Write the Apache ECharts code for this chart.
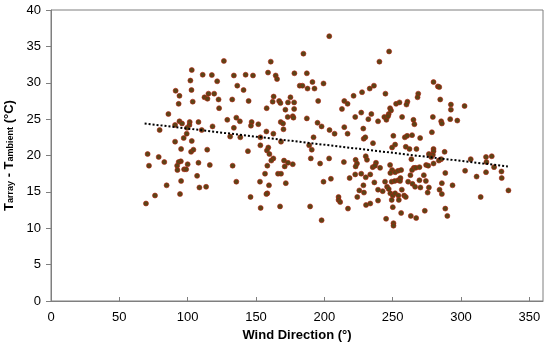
<!DOCTYPE html>
<html><head><meta charset="utf-8">
<script src="https://cdn.jsdelivr.net/npm/echarts@6/dist/echarts.min.js"></script>
<style>html,body{margin:0;padding:0;background:#fff}#c{width:550px;height:348px}</style>
</head><body><div id="c"></div>
<script>
// Wind direction (deg) and T_array - T_ambient (deg C)
const windDir = [
126.5,103,111,117.7,102,121.6,102.8,91.2,115.2,119.4,94,112.3,114.5,122.6,103.7,93.4,123,85.9,94,101.5,95.9,101.3,107.9,90.8,118.2,79.5,99.6,110.3,99.3,
90.8,97.1,103,95.2,102.5,104.2,114.3,70.7,78.8,95,93.4,100,107.9,82.9,71.7,92.3,92.5,97.4,98.9,116.2,106.9,95.2,84.6,108.6,113.5,94.4,76.1,69.5,
184.7,160.8,158.8,178.1,187.2,133.8,142.4,147.8,164.4,165.4,136.3,191.3,182,184,187.7,192.8,199.4,140.9,195.5,132.6,144.6,162.9,162.2,166.9,167.9,175.2,173.4,177.9,157.8,171.5,177.9,173.2,176.9,177.4,168.1,169.8,187.2,195,198,129,135.6,138.2,146.8,146.3,151.7,133.8,157.6,162.7,170.1,
131.1,138.5,144.1,153.2,153.2,159,158,159.8,162.7,161.2,168.3,158.3,170.5,173.4,176.9,171,192.1,188.9,190.8,190.1,196.9,132.9,156.6,166.1,168.3,135.6,152.9,159.5,171.8,199.4,158.3,157.6,146,153.4,167.6,189.6,198,
203.6,247.4,240.3,233.2,236.3,227.6,221.4,244.7,214.6,217,212.9,227,234.4,222.6,232.2,239.3,243.9,245.4,248.1,248.8,247.1,246.6,252.5,255,260.8,260.1,256.9,268.7,268.2,265.2,265.9,203.8,207.5,214.6,217,228.5,
228.8,230,235.6,250.5,258.9,260.6,264.2,249.6,251.8,259.6,262.3,267.4,203.5,214.3,222.9,223.9,222.9,230.3,231.2,235.4,237.8,237.1,240.8,248.1,249.6,251.8,248.3,254,256.2,263.7,265.5,264.2,266.9,269.6,222.6,227,263,
204.8,210.4,210.4,211.6,217.3,218.5,224.1,225.6,228.6,229,230.5,233.6,230.3,233.6,236.6,239.3,242.7,239.3,245.2,244.4,245.9,247.1,249.3,248.3,250.1,249.3,250.1,250.6,250.6,251.8,251.5,254,255.7,255.4,254.2,254.5,256.7,258.4,259.6,256.2,261.3,264.5,266.4,263.3,267.2,269.6,
279.9,283.1,284.1,284.8,292.6,292.6,302.6,279.4,285.5,286,292.1,297.3,278.7,
270.1,279.9,279.9,288,276.5,279.4,278.2,283.8,285.5,279.9,274.5,276,288.5,272.8,274.3,270.3,276.5,275.6,286,286,284.3,293.8,288.5,290,273.5,307.1,303,318.3,322.5,318.6,324.2,318.3,311.4,329.6,329.8,334.7,314.4
];
const deltaT = [
33.0,31.75,31.1,31.06,30.3,30.2,29.0,28.9,28.5,28.5,28.2,28.0,27.8,27.7,27.4,27.1,26.5,25.7,24.7,24.6,24.4,24.2,24.6,24.2,24.0,23.5,23.8,23.5,23.0,
21.9,22.4,22.0,20.9,20.5,20.8,20.8,20.2,19.8,19.2,19.1,18.8,19.0,19.1,18.6,18.6,18.0,18.1,18.1,18.7,17.2,16.5,15.9,15.6,15.7,14.7,14.5,13.4,
34.0,32.9,31.4,31.3,31.3,31.0,31.1,31.0,31.0,30.5,29.6,30.1,29.6,29.6,29.2,29.2,29.9,29.0,27.5,27.7,27.5,28.1,27.4,27.5,27.2,28.0,27.3,27.3,26.5,26.3,26.4,25.3,25.4,25.2,24.6,24.4,25.1,24.5,24.0,24.9,25.2,24.7,24.6,24.1,24.3,23.8,23.3,23.0,23.6,
22.6,22.5,20.6,22.5,21.4,21.1,20.7,20.2,19.6,19.3,21.9,18.6,19.3,19.0,18.8,18.5,22.5,21.4,20.8,19.6,18.9,18.6,17.5,17.5,17.5,16.4,16.4,15.9,16.2,16.4,14.8,14.7,14.3,12.8,13.0,13.0,11.1,
36.4,34.3,32.9,29.2,29.6,28.7,28.2,28.5,27.5,27.1,26.4,25.9,25.7,25.3,25.0,24.7,25.3,24.9,26.5,26.2,25.7,25.4,27.1,27.3,27.4,27.0,25.3,28.5,28.0,24.9,24.3,23.5,23.0,23.9,23.0,23.7,
22.3,22.5,21.7,22.7,22.5,22.7,22.8,21.1,21.5,21.2,20.9,20.9,19.6,19.1,19.4,18.9,18.5,19.9,19.4,18.4,19.0,18.6,18.3,18.7,18.0,17.7,17.6,17.9,18.0,19.5,18.3,18.0,18.3,18.4,17.4,17.5,17.3,
16.8,14.3,13.9,13.6,12.7,16.9,14.3,15.2,15.9,14.9,13.2,13.4,17.0,17.4,16.3,15.3,15.1,13.8,11.3,16.4,15.7,15.4,16.4,14.8,14.5,13.9,12.9,10.7,10.35,14.8,16.5,16.6,16.9,16.5,14.5,13.9,15.3,14.5,14.3,12.1,16.4,16.1,15.7,11.7,11.4,16.6,
30.1,29.5,29.4,27.7,27.0,26.3,26.8,25.3,24.7,24.4,25.0,24.8,23.2,
22.4,20.9,20.6,20.5,20.2,20.1,19.8,19.3,19.5,18.9,18.7,18.6,17.6,17.3,16.5,15.6,15.6,14.9,16.2,14.7,15.3,15.9,12.7,11.7,12.4,19.5,17.9,19.8,19.9,19.1,18.4,17.7,17.1,17.8,16.9,15.2,14.3
];
// Linear trend line: y = trendIntercept + trendSlope * x
const trendIntercept = 25.92;
const trendSlope = -0.0222;
const trendRange = [68.5, 334.3];
const xTicks = [0,50,100,150,200,250,300,350];

const points = windDir.map((x,i)=>[x, deltaT[i]]);
const trend = trendRange.map(x=>[x, trendIntercept + trendSlope*x]);

const chart = echarts.init(document.getElementById('c'), null, {renderer:'canvas'});
const font = 'Liberation Sans, Arial, sans-serif';
chart.setOption({
  animation:false,
  grid:{left:51,right:7,top:10,bottom:47,containLabel:false,outerBoundsMode:'none',
        show:true,borderColor:'#7f7f7f',borderWidth:1,backgroundColor:'transparent'},
  xAxis:{type:'value',min:0,max:360,interval:50,
    name:'Wind Direction (°)',nameLocation:'middle',nameGap:27,
    nameTextStyle:{fontFamily:font,fontSize:13,fontWeight:'bold',color:'#000'},
    axisLine:{show:true,lineStyle:{color:'#7f7f7f',width:1}},
    axisTick:{show:true,inside:true,length:4,customValues:xTicks,lineStyle:{color:'#7f7f7f'}},
    axisLabel:{customValues:xTicks,margin:10,fontFamily:font,fontSize:13,color:'#000'},
    splitLine:{show:false}},
  yAxis:{type:'value',min:0,max:40,interval:5,
    name:'{t|T}{s|array}{t| - T}{s|ambient}{t| (°C)}',nameLocation:'middle',nameGap:32,nameRotate:90,
    nameTextStyle:{fontFamily:font,fontWeight:'bold',color:'#000',
      rich:{t:{fontFamily:font,fontSize:13,fontWeight:'bold',color:'#000',padding:[0,0,3,0]},
            s:{fontFamily:font,fontSize:9,fontWeight:'bold',color:'#000'}}},
    axisLine:{show:true,lineStyle:{color:'#7f7f7f',width:1}},
    axisTick:{show:true,inside:false,length:5,lineStyle:{color:'#7f7f7f'}},
    axisLabel:{margin:10,fontFamily:font,fontSize:13,color:'#000'},
    splitLine:{show:false}},
  series:[
    {type:'scatter',data:points,symbol:'circle',symbolSize:5,
     itemStyle:{color:'#5c4416',borderColor:'#b3200f',borderWidth:0.6,opacity:1},z:2},
    {type:'line',data:trend,symbol:'none',z:3,
     lineStyle:{color:'#000',width:2,type:[2,2]}}
  ]
});
</script></body></html>
